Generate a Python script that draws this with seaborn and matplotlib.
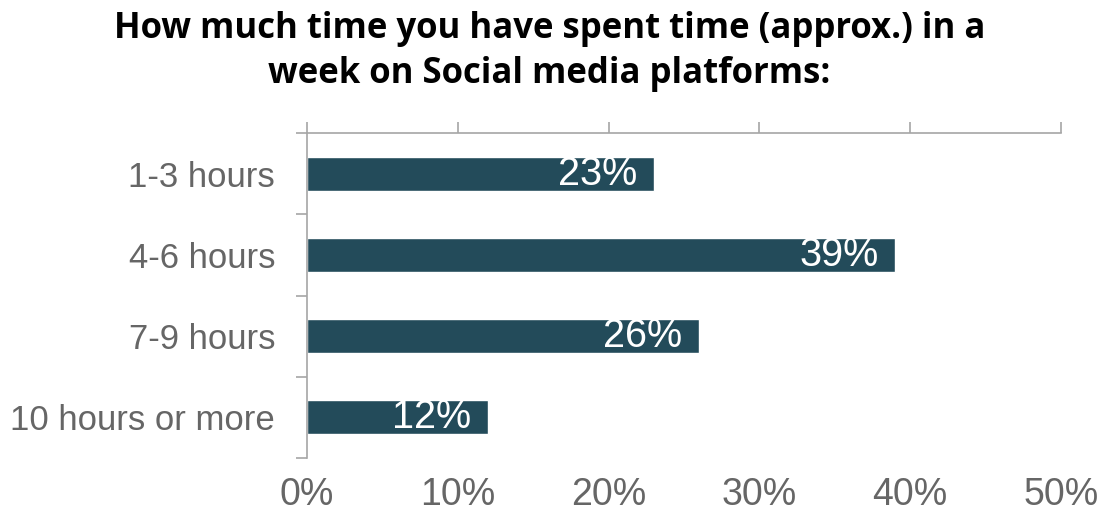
import matplotlib
matplotlib.use("Agg")
import matplotlib.pyplot as plt
import seaborn as sns
import pandas as pd
from matplotlib.ticker import FixedLocator, PercentFormatter

categories = ["1-3 hours", "4-6 hours", "7-9 hours", "10 hours or more"]
values = [23, 39, 26, 12]
x_ticks = [0, 10, 20, 30, 40, 50]
title = "How much time you have spent time (approx.) in a\nweek on Social media platforms:"

bar_color = "#234B5A"
axis_gray = "#A6A6A6"
text_gray = "#666666"

sns.set_theme(style="white")
plt.rcParams["font.family"] = ["Liberation Sans", "DejaVu Sans"]

df = pd.DataFrame({"category": categories, "value": values})

fig = plt.figure(figsize=(10.99, 5.14), dpi=100)
ax = fig.add_axes([307/1099, 1-458/514, (1061-307)/1099, (458-133)/514])

sns.barplot(data=df, x="value", y="category", orient="h", color=bar_color,
            width=0.42, ax=ax, saturation=1)

ax.set_xlim(0, 50)
ax.set_ylim(len(categories) - 0.5, -0.5)
ax.set_xlabel("")
ax.set_ylabel("")

ax.xaxis.set_major_locator(FixedLocator(x_ticks))
ax.xaxis.set_major_formatter(PercentFormatter(decimals=0))
ax.tick_params(axis="x", top=True, bottom=False, labeltop=False, labelbottom=True,
               direction="out", length=8, width=1.2, color=axis_gray,
               labelsize=27, labelcolor=text_gray, pad=5.5)

ax.yaxis.set_minor_locator(FixedLocator([i - 0.5 for i in range(len(categories) + 1)]))
ax.tick_params(axis="y", which="major", length=0, labelsize=25, labelcolor=text_gray, pad=23)
ax.tick_params(axis="y", which="minor", left=True, length=8, width=1.2, color=axis_gray)

for side in ["right", "bottom"]:
    ax.spines[side].set_visible(False)
for side in ["top", "left"]:
    ax.spines[side].set_visible(True)
    ax.spines[side].set_color(axis_gray)
    ax.spines[side].set_linewidth(1.2)

for container in ax.containers:
    texts = ax.bar_label(container, labels=[f"{v}%" for v in values], label_type="edge",
                         padding=-12, color="white", fontsize=28.5)
    for t in texts:
        t.set_ha("right")

fig.text(0.5, 1 - 11/514, title, ha="center", va="top", fontsize=25,
         fontweight="bold", family=["Open Sans", "DejaVu Sans"], linespacing=1.32,
         color="black")

fig.savefig("out.png", dpi=100)
